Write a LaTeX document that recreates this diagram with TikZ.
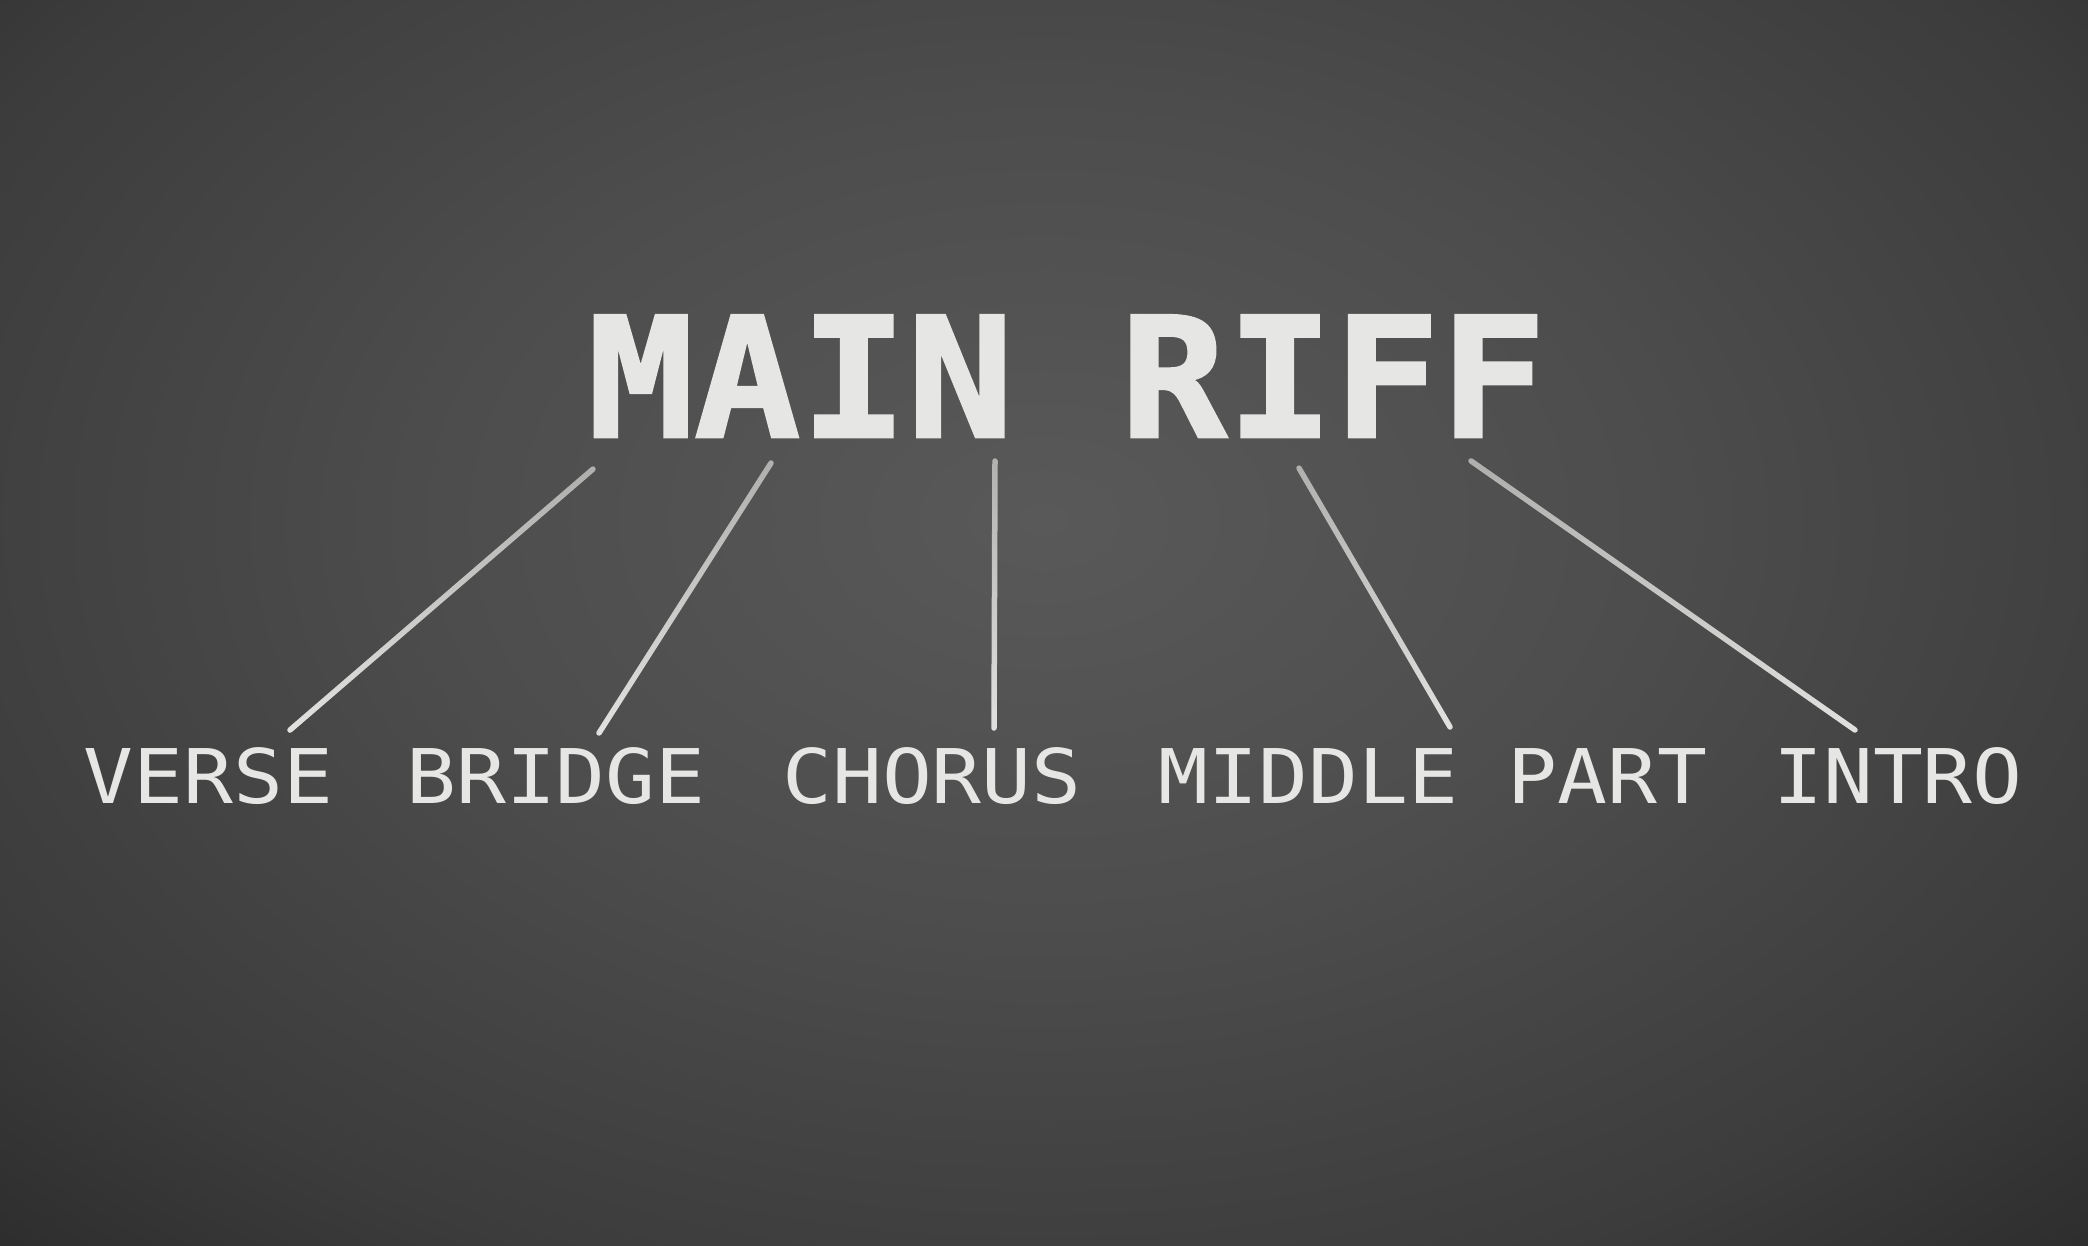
\documentclass[tikz,border=0pt]{standalone}
\usepackage{fontspec}
\usetikzlibrary{fadings}
\newfontfamily\titlefont{DejaVu Sans Mono}[FakeStretch=1.06,FakeBold=1.6]
\newfontfamily\labelfont{DejaVu Sans Mono}[FakeStretch=1.1]
\definecolor{bgA}{HTML}{595959}
\definecolor{bgB}{HTML}{4D4D4D}
\definecolor{bgC}{HTML}{3C3C3C}
\definecolor{bgD}{HTML}{2E2E2E}
\definecolor{chalk}{HTML}{E6E6E4}
\definecolor{chalkline}{HTML}{E2E2E0}
\pgfdeclareradialshading{bgshade}{\pgfpoint{0bp}{0bp}}{color(0bp)=(bgA); color(10bp)=(bgB); color(20bp)=(bgC); color(25bp)=(bgD); color(50bp)=(bgD)}
\tikzfading[name=chalkfade, top color=transparent!35, bottom color=transparent!0]
\tikzset{
  titlestyle/.style={anchor=base, inner sep=0pt, text=chalk, font=\titlefont\bfseries\fontsize{167}{167}\selectfont},
  labelstyle/.style={anchor=base, inner sep=0pt, text=chalk, font=\labelfont\fontsize{75.4}{75.4}\selectfont},
  chalkstroke/.style={draw=chalkline, line width=5.5pt, line cap=round, path fading=chalkfade}
}
\begin{document}
\begin{tikzpicture}[x=1pt, y=-1pt]
\useasboundingbox (0,0) rectangle (2088,1246);
\fill[bgD] (0,0) rectangle (2088,1246);
\begin{scope}
\clip (0,0) rectangle (2088,1246);
\shade[shading=bgshade] (-456,-480) rectangle (2544,1520);
\end{scope}

\node[titlestyle] (title) at (1067,437) {MAIN RIFF};

\node[labelstyle] (verse) at (208.5,803) {VERSE};
\node[labelstyle] (bridge) at (556,803) {BRIDGE};
\node[labelstyle] (chorus) at (932,803) {CHORUS};
\node[labelstyle] (middle) at (1433,803) {MIDDLE PART};
\node[labelstyle] (intro) at (1898,803) {INTRO};

\coordinate (t1) at (593,469);
\coordinate (b1) at (290,730);
\coordinate (t2) at (771,463);
\coordinate (b2) at (599,733);
\coordinate (t3) at (995,461);
\coordinate (b3) at (994,728);
\coordinate (t4) at (1299,468);
\coordinate (b4) at (1450,727);
\coordinate (t5) at (1471,461);
\coordinate (b5) at (1855,730);

\draw[chalkstroke] (t1) -- (b1);
\draw[chalkstroke] (t2) -- (b2);
\draw[chalkstroke] (t3) -- (b3);
\draw[chalkstroke] (t4) -- (b4);
\draw[chalkstroke] (t5) -- (b5);
\end{tikzpicture}
\end{document}
